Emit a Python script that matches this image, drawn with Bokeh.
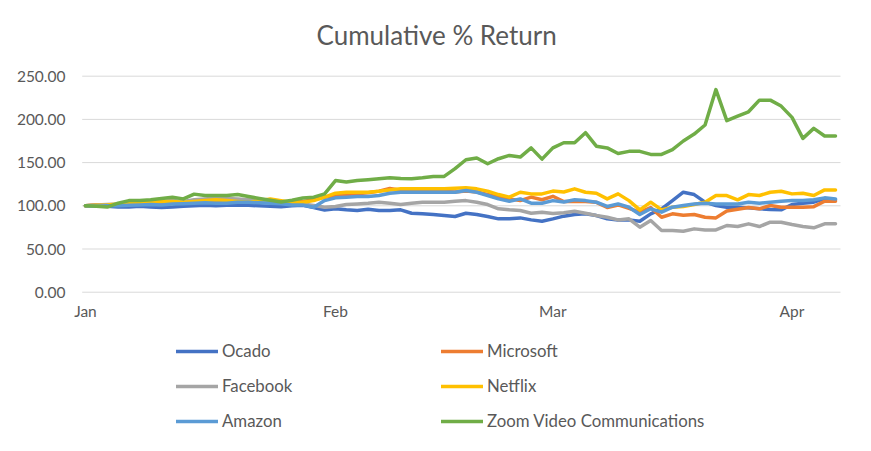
from bokeh.plotting import figure
from bokeh.models import Range1d, Legend, LegendItem, Label, ColumnDataSource
from bokeh.core.properties import value
from bokeh.embed import file_html
from bokeh.resources import INLINE

# ---------------- data ----------------
month_labels = ["Jan", "Feb", "Mar", "Apr"]
month_start_idx = [0, 23, 43, 65]          # trading-day index of first day of each month
y_ticks = [0, 50, 100, 150, 200, 250]
y_tick_labels = ["0.00", "50.00", "100.00", "150.00", "200.00", "250.00"]

series_names = ["Ocado", "Microsoft", "Facebook", "Netflix", "Amazon",
                "Zoom Video Communications"]
series_colors = ["#4472C4", "#ED7D31", "#A5A5A5", "#FFC000", "#5B9BD5", "#70AD47"]

ocado = [100, 100.5, 99.5, 98.5, 98.5, 99.5, 98.5, 98, 98.5, 99.5,
         100, 100.5, 100, 100.5, 101, 100.5, 100, 99.5, 99, 100,
         100.5, 98, 95, 96.5, 95.3, 94.5, 96, 94.5, 94.5, 95.3,
         91.4, 90.7, 89.9, 88.7, 87.6, 91.4, 89.9, 87.6, 84.9, 84.9,
         86, 83.7, 82.2, 84.9, 88, 90, 90.7, 88.7, 84.9, 83.7,
         83.7, 82.2, 90.7, 96.5, 106, 115.7, 113, 104.2, 100.3, 98.4,
         98.4, 97.6, 96.5, 95.7, 95.3, 101.5, 103, 104.2, 108, 106.9]

microsoft = [100, 101, 100.5, 101, 102, 102.5, 102, 103, 103.5, 103,
             104, 104.5, 105, 104.5, 105, 105, 104.5, 104, 103, 104,
             105, 107, 110, 112, 113, 114, 115, 117, 120, 118,
             117, 117, 117, 116.5, 116, 117, 116, 113, 110, 108,
             106, 110, 107, 111, 105, 105, 105, 104, 98, 101,
             97, 92.6, 98, 86.8, 90.7, 89, 89.9, 86.8, 86, 94,
             96, 98, 96.5, 100.3, 98.4, 98.4, 98.4, 99, 105.3, 105.3]

facebook = [100, 101, 101.5, 102, 103, 104, 104, 105, 106, 105,
            107, 108, 109, 108.5, 108, 107, 106, 105, 104, 103,
            102, 100.5, 98.4, 99.2, 101.5, 102.2, 103, 104.2, 103, 101.5,
            103, 104.2, 104.2, 104.2, 105.3, 106, 104.2, 101.5, 96.5, 95.3,
            94.5, 91.4, 92.6, 91, 92, 93.7, 91.4, 88.7, 86.8, 83.7,
            84.9, 75.2, 83, 71.4, 71.4, 70.6, 73.3, 72.1, 72.1, 77.2,
            76, 79.1, 76, 81, 81, 78.3, 76, 74.5, 79.1, 79.1]

netflix = [100, 100.5, 101, 102, 103, 104, 104.5, 105, 105, 104,
           105, 106, 107, 106, 105, 104, 106, 108, 106, 104,
           104, 106, 110, 114.6, 115.7, 115.7, 115.7, 116.9, 118.4, 119.6,
           119.6, 119.6, 119.6, 119.6, 120.4, 120.8, 119.6, 117, 113, 110,
           115.7, 113.8, 113.8, 117, 116, 119.6, 115.7, 114.6, 108, 113.8,
           106, 95.3, 104.2, 95.3, 98.4, 99.2, 101.5, 104.2, 111.9, 111.9,
           106.9, 113, 111.9, 115.7, 116.9, 113.8, 114.6, 111.9, 118.4, 118.4]

amazon = [100, 99.5, 100, 100, 100.5, 101, 101.5, 101, 102, 102.5,
          103, 103.5, 103, 103, 104, 104, 103.5, 103, 102.5, 101,
          101, 98.4, 106, 109.2, 110, 110.7, 110.7, 111.9, 114.6, 115.7,
          115.7, 115.7, 115.7, 115.7, 115.7, 117.7, 115.7, 111.9, 108, 105.3,
          108, 103, 103, 106, 104.5, 106.9, 106, 104.2, 99.2, 102.2,
          98.4, 89.9, 96.5, 92.6, 98.4, 100.3, 102.2, 103, 102.2, 102.2,
          102.2, 104.2, 103, 104.2, 105.3, 106, 106, 106.9, 109.2, 108]

zoom_video = [100, 99.5, 98.5, 103, 106, 106, 107, 108.5, 110, 108,
              113.5, 112, 112, 112, 113, 110.7, 108.5, 106.5, 104.5, 106.5,
              109, 110, 113.8, 129.2, 127.5, 129.2, 130.2, 131.4, 132.5, 131.5,
              131.4, 132.5, 134, 134, 143, 153.3, 155.3, 148.7, 154.5, 158.3,
              156.4, 167, 154, 167, 173, 173, 184.6, 169, 167, 160.5,
              163, 163, 159.5, 159.5, 165, 175, 183, 193.5, 234.5, 198.5,
              203.8, 208.8, 222.3, 222.3, 215.4, 202.3, 178, 189.6, 180.8, 180.8]

all_series = [ocado, microsoft, facebook, netflix, amazon, zoom_video]
day_idx = list(range(len(ocado)))

# ---------------- layout constants ----------------
FONT = "Lato"
TXT = "#595959"
GRID = "#D9D9D9"
W, H = 863, 443
GRID_X0, GRID_X1 = -0.3, 69.46          # horizontal extent of the plot area

# the frame fills the whole canvas; plot area is a sub-region of it
p = figure(width=W, height=H, output_backend="svg", toolbar_location=None,
           x_range=Range1d(-7.816, 71.576), y_range=Range1d(-175.1, 337.6),
           min_border=0)
p.axis.visible = False
p.grid.visible = False
p.outline_line_color = None
p.background_fill_color = "white"
p.border_fill_color = "white"

# horizontal gridlines
p.segment(x0=GRID_X0, x1=GRID_X1, y0=y_ticks, y1=y_ticks,
          line_color=GRID, line_width=1)

# y tick labels
ysrc = ColumnDataSource(dict(x=[GRID_X0] * len(y_ticks), y=y_ticks, text=y_tick_labels))
p.text(x="x", y="y", text="text", source=ysrc, x_offset=-16.7,
       text_align="right", text_baseline="middle", text_font=value(FONT),
       text_font_size="15.5px", text_color=TXT)

# x (month) tick labels under the zero line
xsrc = ColumnDataSource(dict(x=month_start_idx, y=[0] * len(month_start_idx),
                             text=month_labels))
p.text(x="x", y="y", text="text", source=xsrc, y_offset=19,
       text_align="center", text_baseline="alphabetic", text_font=value(FONT),
       text_font_size="15.5px", text_color=TXT)

items = []
for name, vals, col in zip(series_names, all_series, series_colors):
    r = p.line(day_idx, vals, line_color=col, line_width=3.5,
               line_join="round", line_cap="round")
    items.append(LegendItem(label=name, renderers=[r]))

title = Label(text="Cumulative % Return", x=316, y=H - 34,
              x_units="screen", y_units="screen",
              text_align="left", text_baseline="middle",
              text_font=FONT, text_font_size="26px", text_color=TXT)
p.add_layout(title)

legend = Legend(items=items, orientation="horizontal", ncols=2,
                location=(176, 12), padding=0, margin=0, spacing=14,
                glyph_width=42, glyph_height=20, label_height=20,
                label_width=205, label_standoff=4,
                label_text_font=FONT, label_text_font_size="16.8px",
                label_text_color=TXT, border_line_color=None,
                background_fill_alpha=0)
p.add_layout(legend, "center")

open("out.html", "w").write(file_html(p, INLINE))
